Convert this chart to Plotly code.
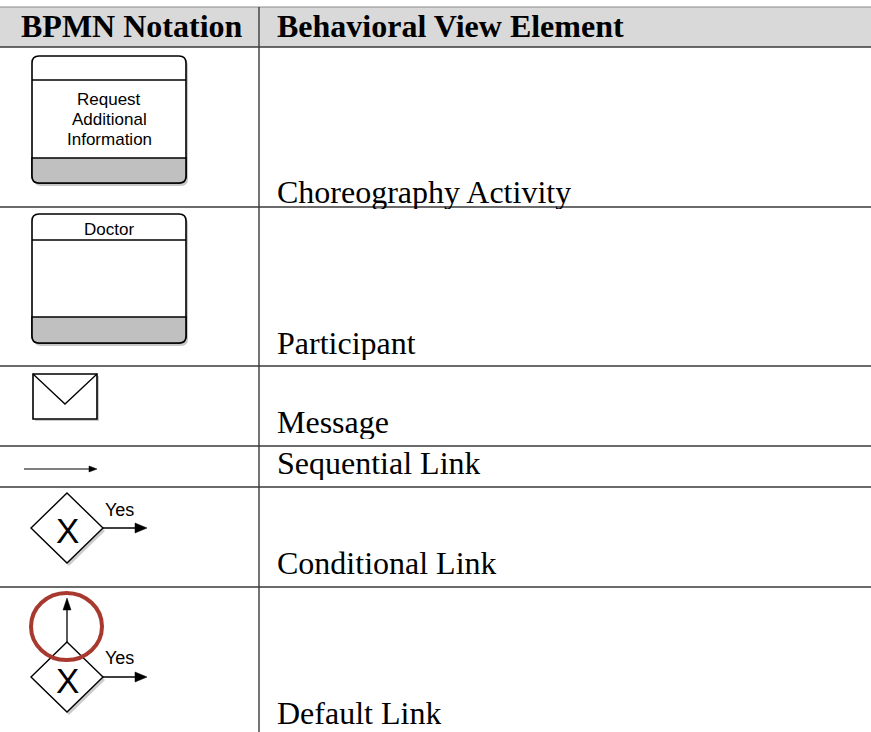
import plotly.graph_objects as go

# ---- table content ----
header_left = "BPMN Notation"
header_right = "Behavioral View Element"
elements = ["Choreography Activity", "Participant", "Message",
            "Sequential Link", "Conditional Link", "Default Link"]
activity_label = ["Request", "Additional", "Information"]
participant_label = "Doctor"
gateway_label = "X"
condition_label = "Yes"

# ---- layout constants (pixels, canvas 871 x 732) ----
W, H = 871, 732
HEAD_TOP, HEAD_BOT = 7, 47
COL_X = 259
ROW_LINES = [207, 366, 446, 487, 587]
TEXT_Y = [192, 343, 422, 463, 563, 713]

SERIF = "Liberation Serif, Times New Roman, serif"
SANS = "Liberation Sans, Arial, Helvetica, sans-serif"
LINE = "#3a3a3a"

shapes = []
annotations = []


def rrect(x0, y0, x1, y1, r):
    return (f"M{x0+r},{y0} L{x1-r},{y0} Q{x1},{y0} {x1},{y0+r} "
            f"L{x1},{y1-r} Q{x1},{y1} {x1-r},{y1} L{x0+r},{y1} "
            f"Q{x0},{y1} {x0},{y1-r} L{x0},{y0+r} Q{x0},{y0} {x0+r},{y0} Z")


def bottom_band(x0, yb, x1, y1, r):
    return (f"M{x0},{yb} L{x1},{yb} L{x1},{y1-r} Q{x1},{y1} {x1-r},{y1} "
            f"L{x0+r},{y1} Q{x0},{y1} {x0},{y1-r} Z")


def add_path(path, fill=None, color="black", width=1.5, opacity=1.0):
    shapes.append(dict(type="path", path=path, xref="x", yref="y",
                       fillcolor=fill if fill else "rgba(0,0,0,0)",
                       line=dict(color=color, width=width), opacity=opacity,
                       layer="above"))


def add_line(x0, y0, x1, y1, color="black", width=1.2):
    shapes.append(dict(type="line", x0=x0, y0=y0, x1=x1, y1=y1, xref="x", yref="y",
                       line=dict(color=color, width=width), layer="above"))


def text(x, y, s, size, family, xanchor="center", bold=False, color="black", height=None):
    a = dict(x=x, y=y, xref="x", yref="y", text=f"<b>{s}</b>" if bold else s,
             showarrow=False, xanchor=xanchor, yanchor="middle",
             font=dict(size=size, family=family, color=color))
    if height:
        a["height"] = height
    annotations.append(a)


def task_box(x0, y0, x1, y1, top_line, band_top):
    add_path(rrect(x0 + 2, y0 + 3, x1 + 2, y1 + 3, 7), fill="rgba(0,0,0,0.22)", color="rgba(0,0,0,0)", width=0)
    add_path(rrect(x0, y0, x1, y1, 7), fill="white", color="black", width=1.6)
    add_path(bottom_band(x0, band_top, x1, y1, 7), fill="#c0c0c0", color="black", width=1.6)
    add_line(x0, top_line, x1, top_line, "black", 1.6)


def diamond(cx, cy, hw, hh):
    add_path(f"M{cx+2},{cy-hh+3} L{cx+hw+2},{cy+3} L{cx+2},{cy+hh+3} L{cx-hw+2},{cy+3} Z",
             fill="rgba(0,0,0,0.2)", color="rgba(0,0,0,0)", width=0)
    add_path(f"M{cx},{cy-hh} L{cx+hw},{cy} L{cx},{cy+hh} L{cx-hw},{cy} Z",
             fill="white", color="black", width=1.4)


def arrow_right(x0, x1, y, head_len, head_half, width=1.3):
    add_line(x0, y, x1 - head_len + 1, y, "black", width)
    add_path(f"M{x1},{y} L{x1-head_len},{y-head_half} L{x1-head_len},{y+head_half} Z",
             fill="black", color="black", width=0.5)


# ---- table frame ----
shapes.append(dict(type="rect", x0=0, x1=W, y0=HEAD_TOP, y1=HEAD_BOT, xref="x", yref="y",
                   fillcolor="#d9d9d9", line=dict(width=0), layer="below"))
add_line(0, HEAD_TOP, W, HEAD_TOP, "#8a8a8a", 1.2)
add_line(0, HEAD_BOT, W, HEAD_BOT, LINE, 1.4)
for yl in ROW_LINES:
    add_line(0, yl, W, yl, LINE, 1.4)
add_line(COL_X, HEAD_TOP, COL_X, H, LINE, 1.4)

text(132, 26, header_left, 32, SERIF, bold=True)
text(275, 26, header_right, 32, SERIF, xanchor="left", bold=True)

for name, ty in zip(elements, TEXT_Y):
    text(275, ty, name, 32, SERIF, xanchor="left", height=34)

# ---- choreography activity ----
task_box(32, 56, 186, 183, 80, 158)
for s, ty in zip(activity_label, [99, 119, 139]):
    text(109, ty, s, 17, SANS)

# ---- participant ----
task_box(32, 214, 186, 343, 240, 317)
text(109, 229, participant_label, 17, SANS)

# ---- message ----
add_path("M35,376 L99,376 L99,421 L35,421 Z", fill="rgba(0,0,0,0.2)", color="rgba(0,0,0,0)", width=0)
add_path("M33,374 L97,374 L97,419 L33,419 Z", fill="white", color="black", width=1.6)
add_path("M33,374 L65,404 L97,374", color="black", width=1.3)

# ---- sequential link ----
arrow_right(24, 97, 469, 8, 3, 1.1)

# ---- conditional link ----
diamond(67, 528, 36, 35)
text(67, 530, gateway_label, 35, SANS)
arrow_right(103, 147, 528, 12, 5)
text(119, 510, condition_label, 18, SANS)

# ---- default link ----
diamond(67, 677, 36, 35)
text(67, 680, gateway_label, 35, SANS)
arrow_right(103, 147, 677, 12, 5)
text(119, 658, condition_label, 18, SANS)
add_line(67, 642, 67, 608, "black", 1.3)
add_path("M67,598 L63,610 L71,610 Z", fill="black", color="black", width=0.5)
shapes.append(dict(type="circle", x0=31, x1=102, y0=593, y1=660, xref="x", yref="y",
                   line=dict(color="#a8392f", width=4), fillcolor="rgba(0,0,0,0)", layer="above"))

fig = go.Figure()
fig.update_layout(
    width=W, height=H, margin=dict(l=0, r=0, t=0, b=0),
    paper_bgcolor="white", plot_bgcolor="white",
    xaxis=dict(range=[0, W], visible=False, fixedrange=True),
    yaxis=dict(range=[H, 0], visible=False, fixedrange=True),
    shapes=shapes, annotations=annotations, showlegend=False,
)
fig.write_html("out.html", config={"displayModeBar": False},
               post_script="document.body.style.margin='0px';document.body.style.overflow='hidden';")
